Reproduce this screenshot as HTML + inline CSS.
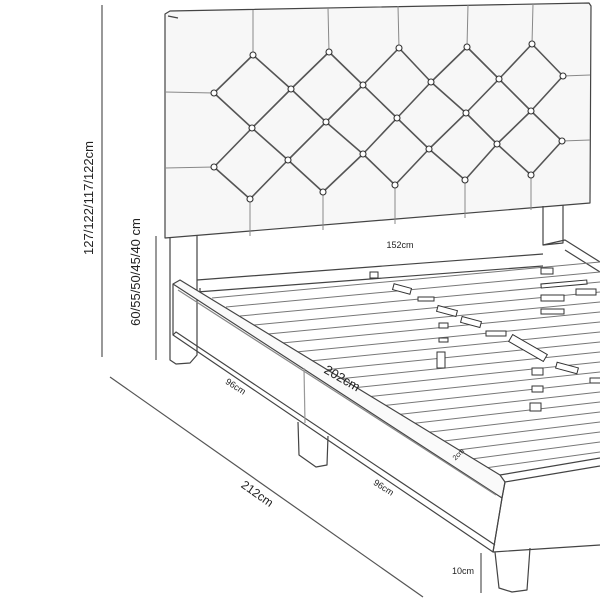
<!DOCTYPE html>
<html><head><meta charset="utf-8"><style>
html,body{margin:0;padding:0;background:#fff;}
svg{display:block;}
text{font-family:"Liberation Sans",sans-serif;fill:#222;}
</style></head><body>
<svg width="600" height="600" viewBox="0 0 600 600" xmlns="http://www.w3.org/2000/svg">
<g fill="none" stroke="#444" stroke-width="1.2" stroke-linejoin="round">
<path d="M165,14 L170,11 L589,3 L591,6 L590,203 L165,238 Z" fill="#f7f7f7"/>
<path d="M168,16 L178,18" />
<path d="M170,238 L170,360 L176,364 L190,363 L197,355 L197,236"/>
<path d="M543,206 L543,245 L563,243 L563,205"/>
<path d="M253,55 L253,10 M329,52 L328,8 M399,48 L398,6 M467,47 L468,5 M532,44 L533,4
M250,199 L250,236 M323,192 L323,230 M395,185 L395,224 M465,180 L465,218 M531,175 L531,210
M165,92 L214,93 M165,168 L214,167 M563,76 L590,75 M562,141 L590,140" stroke="#888" stroke-width="1"/>
<path d="M214,93 L253,55 L291,89 L329,52 L363,85 L399,48 L431,82 L467,47 L499,79 L532,44 L563,76
M214,93 L252,128 L291,89 L326,122 L363,85 L397,118 L431,82 L466,113 L499,79 L531,111 L563,76
M214,167 L252,128 L288,160 L326,122 L363,154 L397,118 L429,149 L466,113 L497,144 L531,111 L562,141
M214,167 L250,199 L288,160 L323,192 L363,154 L395,185 L429,149 L465,180 L497,144 L531,175 L562,141" stroke="#555" stroke-width="1.6"/>
</g>
<g fill="#fff" stroke="#333" stroke-width="1.1">
<circle cx="253" cy="55" r="3"/><circle cx="329" cy="52" r="3"/><circle cx="399" cy="48" r="3"/><circle cx="467" cy="47" r="3"/><circle cx="532" cy="44" r="3"/>
<circle cx="214" cy="93" r="3"/><circle cx="291" cy="89" r="3"/><circle cx="363" cy="85" r="3"/><circle cx="431" cy="82" r="3"/><circle cx="499" cy="79" r="3"/><circle cx="563" cy="76" r="3"/>
<circle cx="252" cy="128" r="3"/><circle cx="326" cy="122" r="3"/><circle cx="397" cy="118" r="3"/><circle cx="466" cy="113" r="3"/><circle cx="531" cy="111" r="3"/>
<circle cx="214" cy="167" r="3"/><circle cx="288" cy="160" r="3"/><circle cx="363" cy="154" r="3"/><circle cx="429" cy="149" r="3"/><circle cx="497" cy="144" r="3"/><circle cx="562" cy="141" r="3"/>
<circle cx="250" cy="199" r="3"/><circle cx="323" cy="192" r="3"/><circle cx="395" cy="185" r="3"/><circle cx="465" cy="180" r="3"/><circle cx="531" cy="175" r="3"/>
</g>
<g fill="none" stroke="#444" stroke-width="1.2" stroke-linejoin="round">
<path d="M197,280 L543,254 M197,292 L543,266 M200,288 L200,297"/>
<path d="M543,245 L565,240 L600,262 M565,250 L600,272"/>
<g stroke="#777" stroke-width="1">
<path d="M212,298 L600,262 M226,307 L600,272 M240,316 L600,282 M254,325 L600,292 M268,334 L600,302 M282,343 L600,312 M296,352 L600,322 M310,361 L600,332 M324,370 L600,342 M338,379 L600,352 M352,388 L600,362 M366,397 L600,372 M380,406 L600,382 M394,415 L600,392 M408,424 L600,402 M422,433 L600,412 M436,442 L600,422 M450,451 L600,432 M464,460 L600,442 M478,469 L600,452"/>
</g>
<path d="M173,284 L180,280 L500,475 L505,482 L502,498 Z" fill="#fafafa"/>
<path d="M173,284 L173,335 L493,552 L502,498"/>
<path d="M173,335 L176,332 L495,545"/>
<path d="M178,290 L496,495" stroke="#888"/>
<path d="M304,368 L305,423" stroke="#999"/>
<path d="M500,475 L600,458 M502,498 L505,482 M505,482 L600,466 M502,498 L493,552 M493,552 L600,545"/>
<path d="M298,422 L299,455 L316,467 L327,465 L328,436"/>
<path d="M495,552 L499,588 L512,592 L527,590 L530,548"/>
</g>
<g fill="#fff" stroke="#333" stroke-width="1">
<rect x="393" y="286" width="18" height="6" transform="rotate(15 402 289)"/>
<rect x="418" y="297" width="16" height="4"/>
<rect x="437" y="308" width="20" height="6" transform="rotate(15 447 311)"/>
<rect x="439" y="323" width="9" height="5"/>
<rect x="439" y="338" width="9" height="4"/>
<rect x="437" y="352" width="8" height="16"/>
<rect x="461" y="319" width="20" height="6" transform="rotate(15 471 322)"/>
<rect x="486" y="331" width="20" height="5"/>
<rect x="508" y="344" width="40" height="8" transform="rotate(30 528 348)"/>
<rect x="532" y="368" width="11" height="7"/>
<rect x="532" y="386" width="11" height="6"/>
<rect x="530" y="403" width="11" height="8"/>
<rect x="556" y="365" width="22" height="6" transform="rotate(15 567 368)"/>
<rect x="590" y="378" width="12" height="5"/>
<rect x="541" y="268" width="12" height="6"/>
<rect x="541" y="282" width="46" height="4" transform="rotate(-5 564 284)"/>
<rect x="541" y="295" width="23" height="6"/>
<rect x="541" y="309" width="23" height="5"/>
<rect x="576" y="289" width="20" height="6"/>
<rect x="370" y="272" width="8" height="6"/>
</g>
<g stroke="#555" stroke-width="1.2" fill="none">
<path d="M102,5 L102,357"/>
<path d="M156,236 L156,360"/>
<path d="M110,377 L423,597"/>
<path d="M481,553 L481,593"/>
</g>
<text transform="translate(93,198) rotate(-90)" text-anchor="middle" font-size="13">127/122/117/122cm</text>
<text transform="translate(140,272) rotate(-90)" text-anchor="middle" font-size="13">60/55/50/45/40 cm</text>
<text x="400" y="248" text-anchor="middle" font-size="9">152cm</text>
<text transform="translate(340,382) rotate(30)" text-anchor="middle" font-size="13">202cm</text>
<text transform="translate(234,389) rotate(33)" text-anchor="middle" font-size="9">96cm</text>
<text transform="translate(382,490) rotate(33)" text-anchor="middle" font-size="9">96cm</text>
<text transform="translate(255,497) rotate(35)" text-anchor="middle" font-size="12">212cm</text>
<text transform="translate(460,456) rotate(-45)" text-anchor="middle" font-size="7">2cm</text>
<text x="463" y="574" text-anchor="middle" font-size="9">10cm</text>
</svg>
</body></html>
